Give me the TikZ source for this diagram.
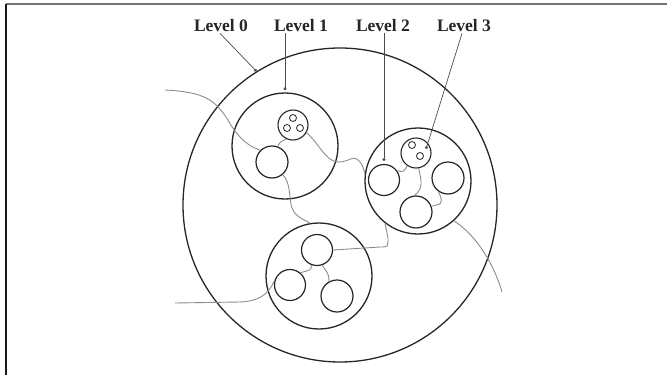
\documentclass[tikz,border=0pt]{standalone}
\usepackage{fontspec}
\setmainfont{Liberation Serif}
\usetikzlibrary{arrows.meta, positioning, calc}
\tikzstyle{ring} = [circle, draw=black!85, line width=1.3pt, inner sep=0pt]
\tikzstyle{cell} = [circle, draw=black!85, line width=1.2pt, inner sep=0pt, minimum size=31pt]
\tikzstyle{tiny} = [circle, draw=black!85, line width=0.8pt, inner sep=0pt, minimum size=7pt]
\tikzstyle{wire} = [draw=black!45, line width=0.9pt]
\tikzstyle{pointer} = [draw=black!70, line width=0.7pt, -{Circle[length=3pt]}]
\tikzstyle{lvltext} = [font=\fontsize{17.5}{20}\selectfont\bfseries, text=black!85, inner sep=1pt]

\begin{document}
\begin{tikzpicture}[x=1pt, y=-1pt]
  \useasboundingbox (0,0) rectangle (667,375);
  % frame
  \draw[black!55, line width=1.6pt] (6,4) -- (667,4);
  \draw[black!90, line width=1.4pt] (6,4) -- (6,375);

  % level labels
  \node[lvltext] (lab0) at (221,26) {Level 0};
  \node[lvltext] (lab1) at (301,26) {Level 1};
  \node[lvltext] (lab2) at (383,26) {Level 2};
  \node[lvltext] (lab3) at (464,26) {Level 3};

  % level 0
  \node[ring, minimum size=314pt] (level0) at (340,205) {};

  % group A (top left)
  \node[ring, minimum size=106pt] (grpA) at (285,146) {};
  \node[ring, minimum size=30pt, line width=1.1pt] (subA) at (293,125) {};
  \node[tiny] (a1) at (293,118) {};
  \node[tiny] (a2) at (287,128) {};
  \node[tiny] (a3) at (300,128) {};
  \node[cell, minimum size=32pt] (medA) at (272,162) {};

  % group B (right)
  \node[ring, minimum size=106pt] (grpB) at (418,181) {};
  \node[ring, minimum size=30pt, line width=1.1pt] (subB) at (416,153) {};
  \node[tiny] (b1) at (412,145) {};
  \node[tiny] (b2) at (420,156) {};
  \node[cell] (medB1) at (384,180) {};
  \node[cell, minimum size=32pt] (medB2) at (448,178) {};
  \node[cell, minimum size=32pt] (medB3) at (416,212) {};

  % group C (bottom)
  \node[ring, minimum size=106pt] (grpC) at (319,276) {};
  \node[cell] (medC1) at (317,250) {};
  \node[cell] (medC2) at (290,285) {};
  \node[cell, minimum size=32pt] (medC3) at (337,296) {};

  % free ends
  \coordinate (inA) at (165,90);
  \coordinate (inC) at (175,303);
  \coordinate (outB) at (502,292);
  \coordinate (dotB) at (426,149);

  % pointers
  \draw[pointer] ([xshift=-1pt]lab0.south) -- (level0.122);
  \draw[pointer] (lab1.south -| grpA.north) -- ([yshift=2pt]grpA.north);
  \draw[pointer] (lab2.south -| medB1.north) -- ([yshift=3pt]medB1.north);
  \draw[pointer] ([xshift=-2pt]lab3.south) -- (dotB);

  % wires
  \draw[wire] (inA) .. controls (205,92) and (215,100) .. (228,120)
    .. controls (238,138) and (248,146) .. (medA.135);
  \draw[wire] (medA.70) .. controls (280,142) .. (subA.245);
  \draw[wire] (subA.330) .. controls (318,142) and (326,162) .. (338,162)
    .. controls (350,162) and (352,155) .. (358,160)
    .. controls (362,164) .. (grpB.172);
  \draw[wire] (medA.310) .. controls (291,182) and (289,200) .. (292,208)
    .. controls (296,218) and (306,220) .. (grpC.100);
  \draw[wire] (medC1.0) -- (380,247) .. controls (388,247) .. (388,238)
    -- (grpB.232);
  \draw[wire] (medC1.250) .. controls (311,270) .. (medC2.50);
  \draw[wire] (medC1.290) .. controls (324,270) and (330,272) .. (medC3.120);
  \draw[wire] (inC) -- (240,302) .. controls (258,301) and (268,296) .. (medC2.160);
  \draw[wire] (subB.235) .. controls (404,172) .. (medB1.35);
  \draw[wire] (subB.280) .. controls (421,180) and (424,188) .. (medB3.95);
  \draw[wire] (medB3.20) -- (440,204) .. controls (442,200) .. (medB2.235);
  \draw[wire] (grpB.312) .. controls (472,232) and (492,258) .. (outB);
\end{tikzpicture}
\end{document}
